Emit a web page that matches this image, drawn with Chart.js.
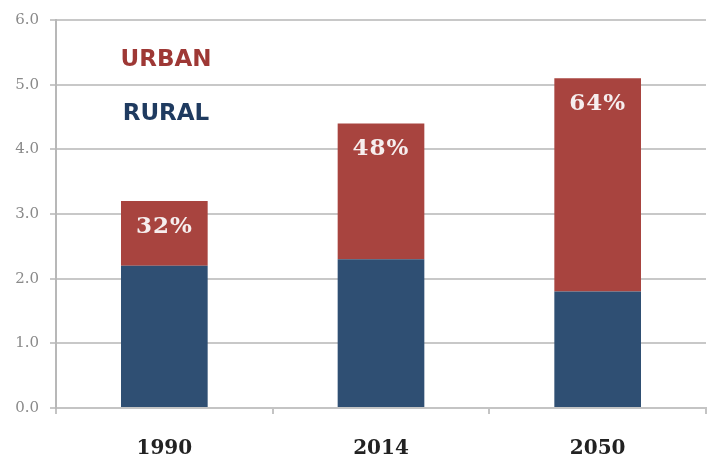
<!DOCTYPE html>
<html>
<head>
<meta charset="utf-8">
<script src="https://cdn.jsdelivr.net/npm/chart.js@4/dist/chart.umd.min.js"></script>
<style>
    body { margin: 0; background: #fff; }
    #chart { display: block; }
</style>
</head>
<body>
<canvas id="chart" width="708" height="459"></canvas>
<script>
// Population (billions), urban vs rural
const years = ['1990', '2014', '2050'];
const rural = [2.2, 2.3, 1.8];
const urban = [1.0, 2.1, 3.3];
const urbanShare = ['32%', '48%', '64%'];
const seriesNames = ['RURAL', 'URBAN'];

const RURAL_COLOR = '#2f4f73';
const URBAN_COLOR = '#a8443f';

// Draws the text legend in the top-left corner and the share labels on the bars
const overlayPlugin = {
    id: 'overlay',
    afterDatasetsDraw(chart) {
        const ctx = chart.ctx;
        const area = chart.chartArea;
        ctx.save();
        ctx.textAlign = 'center';
        ctx.textBaseline = 'middle';

        ctx.font = 'bold 23px "DejaVu Sans"';
        ctx.fillStyle = '#9e3835';
        ctx.fillText(seriesNames[1], area.left + 110, area.top + 40);
        ctx.fillStyle = '#1f3b60';
        ctx.fillText(seriesNames[0], area.left + 110, area.top + 94);

        // share labels near the top of each urban segment
        const meta = chart.getDatasetMeta(1);
        ctx.font = 'bold 23px "DejaVu Serif"';
        ctx.letterSpacing = '1px';
        ctx.fillStyle = '#f6eeee';
        meta.data.forEach((bar, i) => {
            ctx.fillText(urbanShare[i], bar.x, bar.y + 26);
        });
        ctx.restore();
    }
};

new Chart(document.getElementById('chart'), {
    type: 'bar',
    data: {
        labels: years,
        datasets: [
            {
                label: seriesNames[0],
                data: rural,
                backgroundColor: RURAL_COLOR,
                borderWidth: 0
            },
            {
                label: seriesNames[1],
                data: urban,
                backgroundColor: URBAN_COLOR,
                borderWidth: 0
            }
        ]
    },
    options: {
        responsive: false,
        animation: false,
        barPercentage: 0.4,
        categoryPercentage: 1,
        layout: {
            padding: { top: 16, right: 2, left: 0, bottom: 0 }
        },
        plugins: {
            legend: { display: false },
            tooltip: { enabled: false }
        },
        scales: {
            x: {
                stacked: true,
                offset: true,
                afterFit: s => { s.height = 51; },
                grid: {
                    offset: true,
                    drawOnChartArea: false,
                    tickLength: 6,
                    color: '#c4c4c4',
                    lineWidth: 2
                },
                border: { color: '#c4c4c4', width: 2 },
                ticks: {
                    padding: 23,
                    color: '#222',
                    font: { family: 'DejaVu Serif', size: 20, weight: 'bold' }
                }
            },
            y: {
                stacked: true,
                min: 0,
                max: 6,
                afterFit: s => { s.width = 56; },
                grid: {
                    color: '#c8c8c8',
                    lineWidth: 2,
                    tickLength: 6
                },
                border: { color: '#b8b8b8', width: 2 },
                ticks: {
                    stepSize: 1,
                    padding: 11,
                    color: '#8a8a8a',
                    font: { family: 'DejaVu Serif', size: 15 },
                    callback: v => v.toFixed(1)
                }
            }
        }
    },
    plugins: [overlayPlugin]
});
</script>
</body>
</html>
